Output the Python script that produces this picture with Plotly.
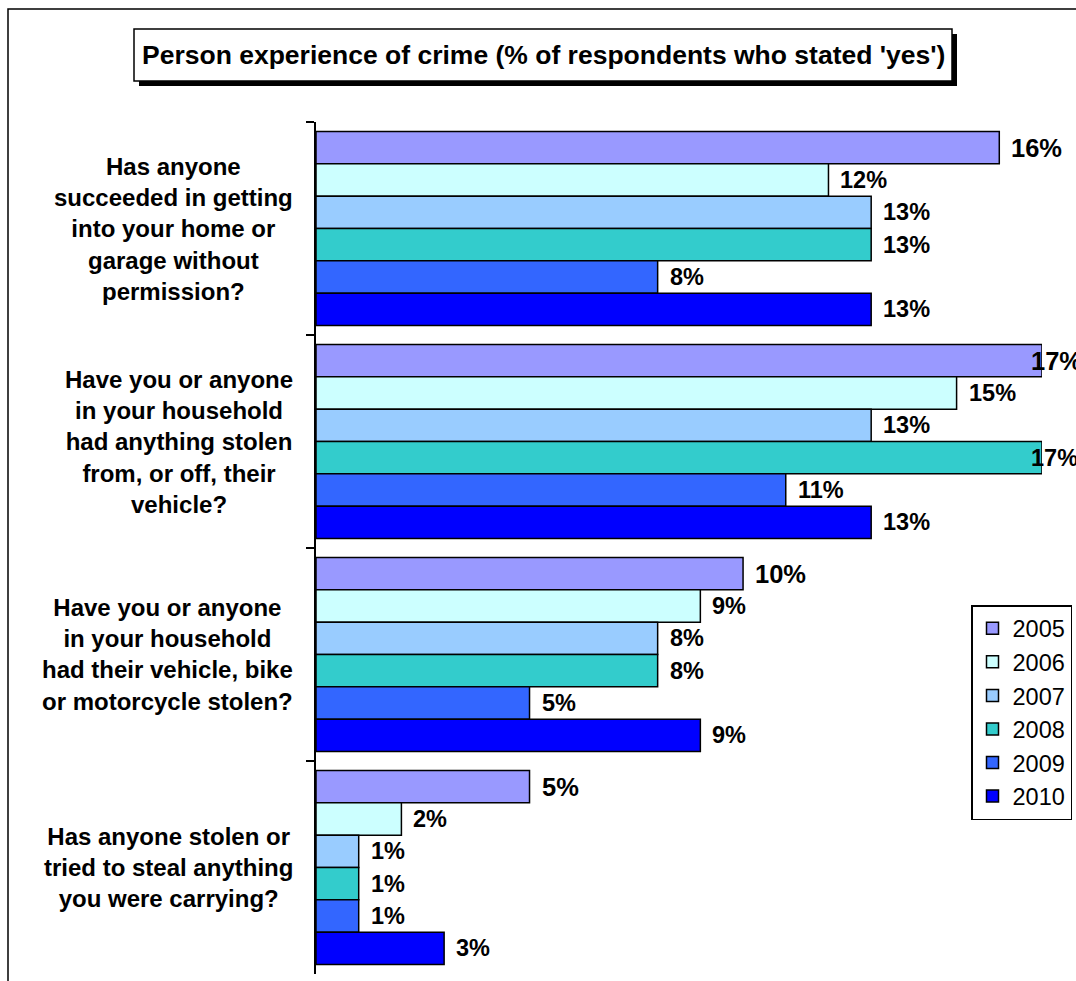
import plotly.graph_objects as go

# ---------------- data ----------------
categories = [
    "Has anyone<br>succeeded in getting<br>into your home or<br>garage without<br>permission?",
    "Have you or anyone<br>in your household<br>had anything stolen<br>from, or off, their<br>vehicle?",
    "Have you or anyone<br>in your household<br>had their vehicle, bike<br>or motorcycle stolen?",
    "Has anyone stolen or<br>tried to steal anything<br>you were carrying?",
]
years = ["2005", "2006", "2007", "2008", "2009", "2010"]
v2005 = [16, 17, 10, 5]
v2006 = [12, 15, 9, 2]
v2007 = [13, 13, 8, 1]
v2008 = [13, 17, 8, 1]
v2009 = [8, 11, 5, 1]
v2010 = [13, 13, 9, 3]
series = [v2005, v2006, v2007, v2008, v2009, v2010]
title_text = "Person experience of crime (% of respondents who stated 'yes')"

# ---------------- style ----------------
colors = ["#9999FF", "#CCFFFF", "#99CCFF", "#33CCCC", "#3366FF", "#0000FF"]
label_sizes = [25.5, 23.5, 23.5, 23.5, 23.5, 23.5]
FONT = "Arial, Liberation Sans, sans-serif"
W, H = 1076, 981
ML, MR, MT, MB = 316, 34, 122, 7
PW, PH = W - ML - MR, H - MT - MB
X_MAX = 17
BARGAP = 0.089


def px(x):
    return (x - ML) / PW


def py(y):
    return (H - MB - y) / PH


fig = go.Figure()
for name, vals, col in zip(years, series, colors):
    fig.add_trace(go.Bar(
        y=categories, x=vals, name=name, orientation="h",
        marker=dict(color=col, line=dict(color="black", width=1.5)),
    ))

# value labels
cat_px = PH / len(categories)
bar_px = cat_px * (1 - BARGAP) / len(years)
annotations = []
for i, (vals, fs) in enumerate(zip(series, label_sizes)):
    for cat, v in zip(categories, vals):
        annotations.append(dict(
            x=v, y=cat, xref="x", yref="y", text=f"{v}%", showarrow=False,
            xanchor="left", yanchor="middle",
            xshift=10 if v < X_MAX else -13,
            yshift=-(i - (len(years) - 1) / 2) * bar_px,
            font=dict(family=FONT, size=fs, color="black", weight="bold"),
        ))

# category labels
for cat in categories:
    annotations.append(dict(
        x=px(295), y=cat, xref="paper", yref="y", text=cat, showarrow=False,
        xanchor="right", yanchor="middle", align="center",
        font=dict(family=FONT, size=24, color="black", weight="bold"),
    ))

# title
annotations.append(dict(
    x=px(543), y=py(55), xref="paper", yref="paper", text=title_text,
    showarrow=False, xanchor="center", yanchor="middle",
    font=dict(family=FONT, size=26.5, color="black", weight="bold"),
))

shapes = [
    # outer chart border
    dict(type="rect", xref="paper", yref="paper", x0=px(8), x1=px(1100),
         y0=py(9), y1=py(1010), line=dict(color="black", width=1.5),
         fillcolor="rgba(0,0,0,0)", layer="below"),
    # title shadow
    dict(type="rect", xref="paper", yref="paper", x0=px(139), x1=px(957),
         y0=py(34), y1=py(86), line=dict(color="black", width=0),
         fillcolor="black", layer="above"),
    # title box
    dict(type="rect", xref="paper", yref="paper", x0=px(134), x1=px(952),
         y0=py(29), y1=py(81), line=dict(color="black", width=1.5),
         fillcolor="white", layer="above"),
]

fig.update_layout(
    width=W, height=H,
    margin=dict(l=ML, r=MR, t=MT, b=MB, autoexpand=False),
    paper_bgcolor="white", plot_bgcolor="white",
    barmode="group", bargap=BARGAP, bargroupgap=0,
    font=dict(family=FONT, color="black"),
    xaxis=dict(range=[0, X_MAX], showgrid=False, zeroline=False,
               showticklabels=False, showline=False, ticks=""),
    yaxis=dict(type="category", range=[len(categories) - 0.5, -0.5],
               showgrid=False, zeroline=False, showticklabels=False,
               showline=True, linecolor="black", linewidth=2,
               ticks="outside", ticklen=8, tickwidth=2, tickcolor="black",
               tickson="boundaries"),
    legend=dict(x=px(971), y=py(605), xanchor="left", yanchor="top",
                traceorder="normal", bgcolor="white", bordercolor="black",
                borderwidth=1.5, itemwidth=30,
                font=dict(family=FONT, size=23.5, color="black")),
    annotations=annotations,
    shapes=shapes,
)

fig.write_html("out.html", config={"displayModeBar": False},
               post_script="document.body.style.margin='0px';")
